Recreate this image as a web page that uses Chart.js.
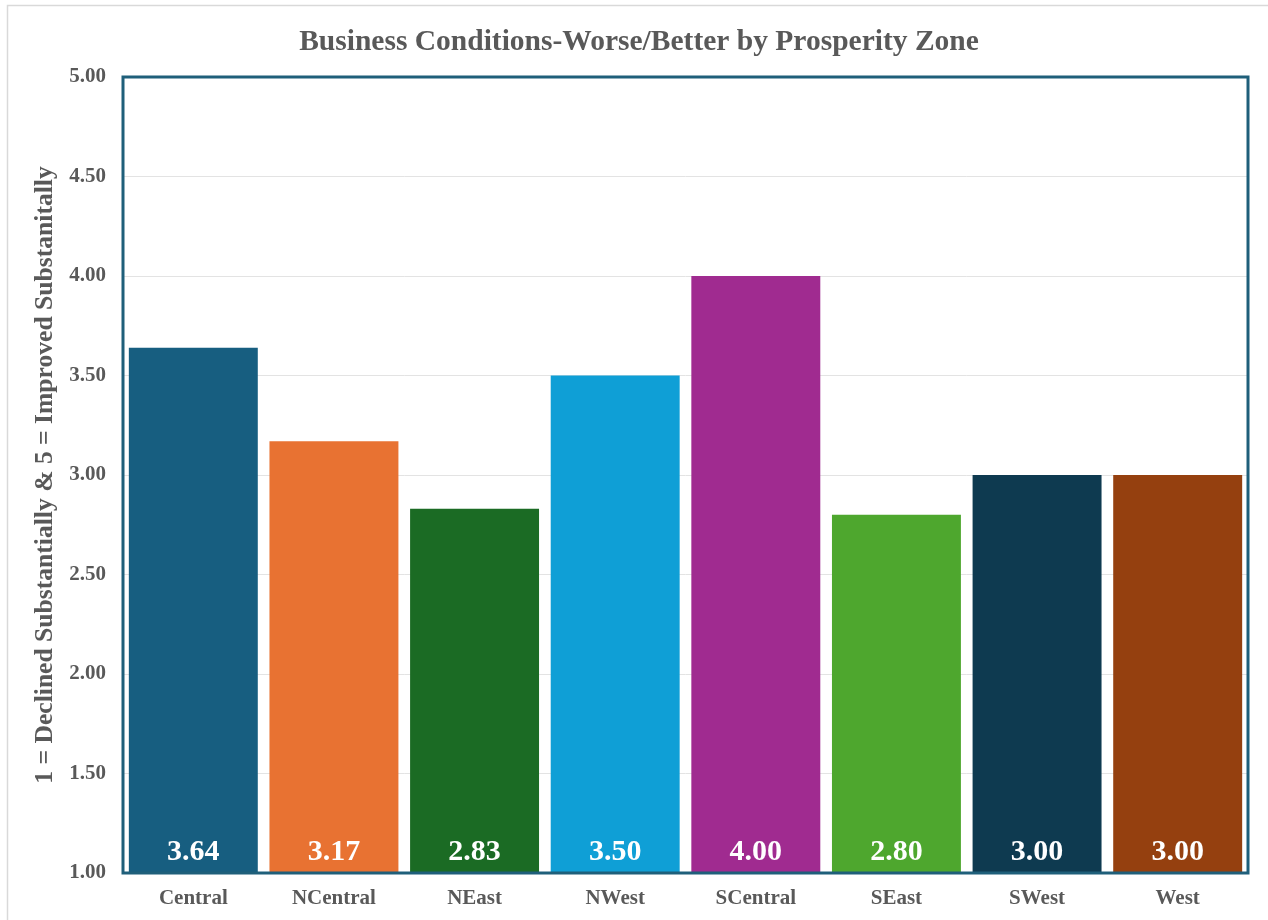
<!DOCTYPE html>
<html>
<head>
<meta charset="utf-8">
<title>Business Conditions-Worse/Better by Prosperity Zone</title>
<script src="https://cdn.jsdelivr.net/npm/chart.js@4.4.1/dist/chart.umd.min.js"></script>
<style>
  html, body { margin: 0; padding: 0; background: #ffffff; }
  #wrap { width: 1268px; height: 920px; position: relative; }
</style>
</head>
<body>
<div id="wrap"><canvas id="chart" width="1268" height="920"></canvas></div>
<script>
// Prosperity zones and their average rating (1 = declined, 5 = improved)
const zones = ['Central', 'NCentral', 'NEast', 'NWest', 'SCentral', 'SEast', 'SWest', 'West'];
const ratings = [3.64, 3.17, 2.83, 3.50, 4.00, 2.80, 3.00, 3.00];
const zoneColors = ['#175E80', '#E87232', '#1B6B24', '#0F9FD6', '#A02B90', '#4EA72E', '#0E3A50', '#95400F'];

const chartTitle = 'Business Conditions-Worse/Better by Prosperity Zone';
const yAxisTitle = '1 = Declined Substantially & 5 = Improved Substanitally';
const yMin = 1, yMax = 5, yStep = 0.5;

const SERIF = '"Liberation Serif", "Times New Roman", serif';
const TEXT_GREY = '#595959';

// Light frame around the whole figure and a dark frame round the plot area
const framePlugin = {
  id: 'frames',
  beforeDraw(chart) {
    const ctx = chart.ctx;
    ctx.save();
    ctx.fillStyle = '#ffffff';
    ctx.fillRect(0, 0, chart.width, chart.height);
    ctx.strokeStyle = '#d9d9d9';
    ctx.lineWidth = 1.5;
    ctx.beginPath();
    ctx.moveTo(7.5, chart.height + 5);
    ctx.lineTo(7.5, 5.5);
    ctx.lineTo(chart.width + 5, 5.5);
    ctx.stroke();
    ctx.restore();
  },
  afterDatasetsDraw(chart) {
    const ctx = chart.ctx;
    const a = chart.chartArea;
    ctx.save();
    ctx.strokeStyle = '#1F5F7A';
    ctx.lineWidth = 3;
    ctx.strokeRect(a.left, a.top, a.right - a.left, a.bottom - a.top);
    ctx.restore();
  }
};

// Value of each bar written in white near the foot of the bar
const valueLabelPlugin = {
  id: 'valueLabels',
  afterDatasetsDraw(chart) {
    const ctx = chart.ctx;
    const meta = chart.getDatasetMeta(0);
    const a = chart.chartArea;
    ctx.save();
    ctx.font = 'bold 30px ' + SERIF;
    ctx.fillStyle = '#ffffff';
    ctx.textAlign = 'center';
    ctx.textBaseline = 'middle';
    meta.data.forEach((bar, i) => {
      ctx.fillText(ratings[i].toFixed(2), bar.x, a.bottom - 21);
    });
    ctx.restore();
  }
};

new Chart(document.getElementById('chart'), {
  type: 'bar',
  data: {
    labels: zones,
    datasets: [{
      data: ratings,
      backgroundColor: zoneColors,
      borderWidth: 0,
      categoryPercentage: 1.0,
      barPercentage: 0.917
    }]
  },
  options: {
    responsive: false,
    animation: false,
    layout: { padding: { top: 0, left: 30, right: 20, bottom: 0 } },
    plugins: {
      legend: { display: false },
      tooltip: { enabled: false },
      title: {
        display: true,
        text: chartTitle,
        color: TEXT_GREY,
        font: { family: SERIF, size: 29.5, weight: 'bold', lineHeight: 1.2 },
        padding: { top: 24.3, bottom: 17.3 }
      }
    },
    scales: {
      x: {
        grid: { display: false, drawTicks: false },
        border: { display: false },
        ticks: {
          color: TEXT_GREY,
          padding: 13,
          font: { family: SERIF, size: 21, weight: 'bold' }
        },
        afterFit(scale) { scale.height = 47; }
      },
      y: {
        min: yMin,
        max: yMax,
        grid: { color: '#e3e3e3', lineWidth: 1, drawTicks: false },
        border: { display: false },
        ticks: {
          stepSize: yStep,
          color: TEXT_GREY,
          padding: 17,
          font: { family: SERIF, size: 21, weight: 'bold' },
          callback: (v) => Number(v).toFixed(2)
        },
        title: {
          display: true,
          text: yAxisTitle,
          color: TEXT_GREY,
          font: { family: SERIF, size: 25.6, weight: 'bold', lineHeight: 1.2 },
          padding: { top: 0, bottom: 0 }
        },
        afterFit(scale) { scale.width = 93; }
      }
    }
  },
  plugins: [framePlugin, valueLabelPlugin]
});
</script>
</body>
</html>
